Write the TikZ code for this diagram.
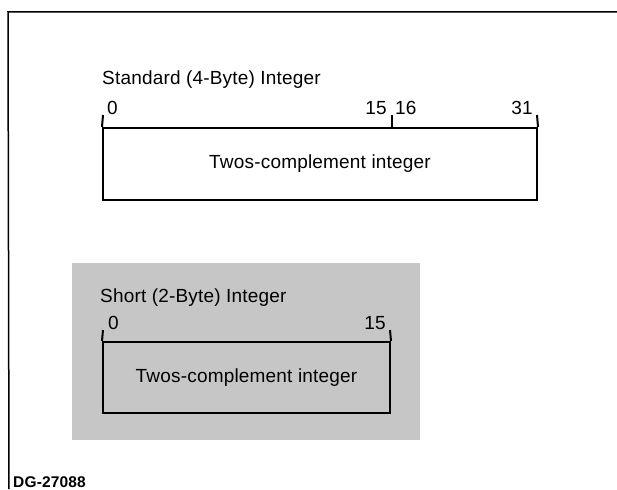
\documentclass[tikz,border=0pt]{standalone}
\usepackage{fontspec}
\setmainfont{Liberation Sans}[LetterSpace=1]
\begin{document}
\begin{tikzpicture}[x=1pt,y=-1pt,
  lbl/.style={inner sep=0pt,font=\fontsize{19}{22}\selectfont},
  num/.style={inner sep=0pt,font=\fontsize{19}{22}\selectfont},
  field/.style={draw=black,line width=2pt,rectangle,inner sep=0pt,font=\fontsize{19}{22}\selectfont},
  tick/.style={line width=2pt},
  frame/.style={line width=1.5pt}]
\useasboundingbox (0,0) rectangle (617,489);
% frame
\coordinate (ftl) at (8,12);
\coordinate (ftr) at (617,12);
\coordinate (fbl) at (9,489);
\draw[frame] (ftr) -- (ftl) -- (fbl);
\node[inner sep=0pt,anchor=base west,font=\bfseries\fontsize{15.5}{17}\selectfont] (dg) at (13,487) {DG-27088};
% shaded panel
\fill[fill={rgb,255:red,198;green,198;blue,198}] (72,263) rectangle (420,440);
% standard integer
\node[lbl,anchor=base west] (t1) at (102,85) {Standard (4-Byte) Integer};
\node[field,minimum width=434pt,minimum height=72pt] (b1) at (320,164) {Twos-complement integer};
\coordinate (b1l) at (103,115);
\coordinate (b1r) at (537,115);
\coordinate (b1mt) at (392,115);
\coordinate (b1mb) at (392,128);
\draw[tick] (b1.north west) -- (b1l);
\draw[tick] (b1.north east) -- (b1r);
\draw[tick] (b1mb) -- (b1mt);
\node[num,anchor=base west] (n0a) at (107,115) {0};
\node[num,anchor=base east] (n15a) at (387,115) {15};
\node[num,anchor=base west] (n16a) at (395,115) {16};
\node[num,anchor=base east] (n31a) at (533,115) {31};
% short integer
\node[lbl,anchor=base west] (t2) at (100,302) {Short (2-Byte) Integer};
\node[field,minimum width=287pt,minimum height=71pt] (b2) at (246.5,377.5) {Twos-complement integer};
\coordinate (b2l) at (103,330);
\coordinate (b2r) at (390,330);
\draw[tick] (b2.north west) -- (b2l);
\draw[tick] (b2.north east) -- (b2r);
\node[num,anchor=base west] (n0b) at (108,329) {0};
\node[num,anchor=base east] (n15b) at (386,329) {15};
\end{tikzpicture}
\end{document}
